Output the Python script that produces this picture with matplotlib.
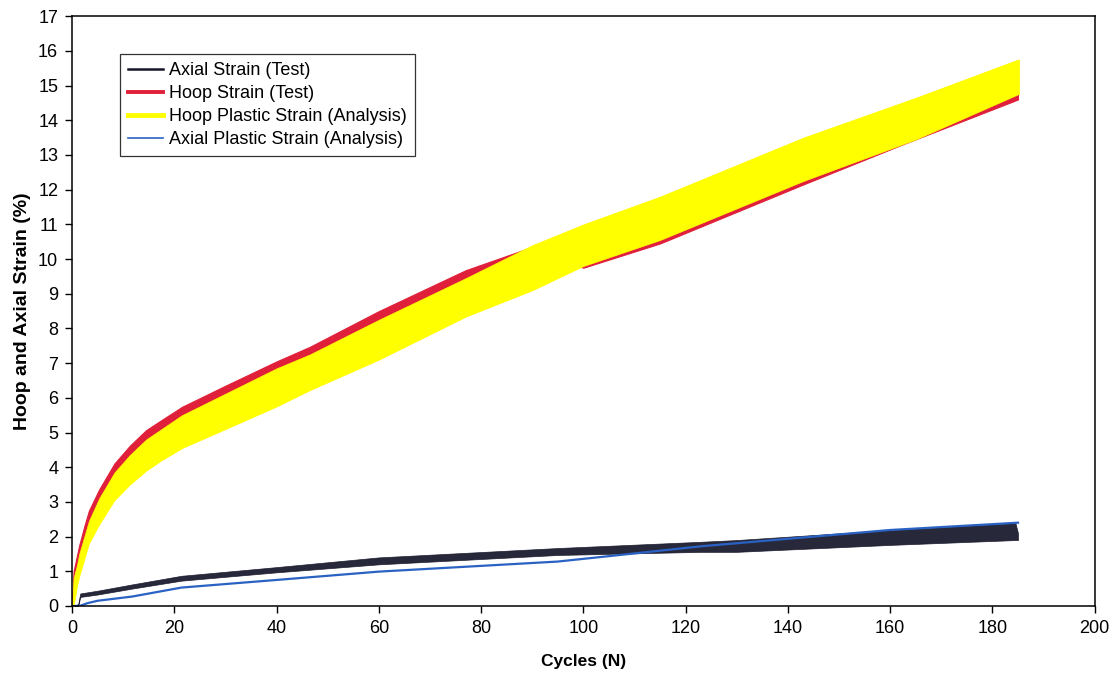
import matplotlib
matplotlib.use('Agg')
import matplotlib.pyplot as plt

plt.rcParams['font.family'] = ['Liberation Sans', 'DejaVu Sans']

# Hoop plastic strain (analysis) - upper / lower envelope of the oscillation
hoop_an_x = [0, 0.3, 1.0, 1.4, 2.4, 3.3, 5.3, 8.3, 11.3, 14.5, 17.5, 21.5, 30, 40, 46.5, 60, 77, 90, 100, 115, 143, 165, 185, 185.2]
hoop_an_hi = [0, 0.8, 1.2, 1.5, 2.0, 2.45, 3.1, 3.85, 4.35, 4.8, 5.1, 5.5, 6.12, 6.85, 7.25, 8.25, 9.45, 10.4, 11.0, 11.8, 13.5, 14.65, 15.75, 15.75]
hoop_an_lo = [0, 0, 0.6, 0.85, 1.35, 1.8, 2.35, 3.05, 3.5, 3.9, 4.2, 4.55, 5.1, 5.75, 6.22, 7.1, 8.34, 9.1, 9.8, 10.55, 12.25, 13.45, 14.75, 14.75]

# Hoop strain (test) - peaks / troughs
hoop_t_x = [0, 0.3, 1.4, 2.4, 3.3, 5.3, 8.3, 11.3, 14.5, 17.5, 21.5, 30, 40, 46.5, 60, 77, 90, 95, 100, 115, 143, 162, 185]
hoop_t_hi = [0, 1.0, 1.75, 2.3, 2.75, 3.36, 4.11, 4.62, 5.07, 5.36, 5.74, 6.35, 7.05, 7.47, 8.5, 9.68, 10.35, 10.15, 9.9, 10.6, 12.3, 13.4, 14.75]
hoop_t_lo = [0, 0.7, 1.35, 1.9, 2.35, 3.0, 3.76, 4.32, 4.77, 5.06, 5.44, 6.05, 6.75, 7.17, 8.2, 9.38, 10.1, 10.0, 9.75, 10.45, 12.15, 13.28, 14.6]

# Axial strain (test) - peaks / troughs
ax_t_x = [0, 1.2, 1.6, 5, 11.7, 21.4, 40, 60, 95, 123, 130, 160, 184.5, 185]
ax_t_hi = [0, 0.05, 0.36, 0.44, 0.62, 0.87, 1.12, 1.4, 1.67, 1.85, 1.9, 2.19, 2.39, 2.1]
ax_t_lo = [0, 0, 0.26, 0.33, 0.5, 0.73, 0.97, 1.2, 1.47, 1.56, 1.56, 1.76, 1.9, 1.9]

# Axial plastic strain (analysis)
ax_an_x = [0, 1.5, 3, 5, 11.7, 21.4, 40, 60, 95, 111, 123, 160, 185]
ax_an_y = [0, 0, 0.08, 0.15, 0.27, 0.53, 0.75, 0.99, 1.28, 1.53, 1.72, 2.19, 2.4]

c_black = '#15152a'
c_red = '#e0203a'
c_yellow = '#ffff00'
c_blue = '#2a62c4'

fig = plt.figure(figsize=(11.17, 6.76), dpi=100)
ax = fig.add_axes([0.0645, 0.1036, 0.9155, 0.8724])

ax.fill_between(ax_t_x, ax_t_lo, ax_t_hi, color=c_black, lw=0.5, alpha=0.92)
ax.fill_between(hoop_t_x, hoop_t_lo, hoop_t_hi, color=c_red, lw=0.8)
ax.fill_between(hoop_an_x, hoop_an_lo, hoop_an_hi, color=c_yellow, lw=0.5)
ax.plot(ax_an_x, ax_an_y, color=c_blue, lw=1.6)

# legend handles
ax.plot([], [], color=c_black, lw=1.8, label='Axial Strain (Test)')
ax.plot([], [], color=c_red, lw=2.8, label='Hoop Strain (Test)')
ax.plot([], [], color=c_yellow, lw=3.5, label='Hoop Plastic Strain (Analysis)')
ax.plot([], [], color=c_blue, lw=1.2, label='Axial Plastic Strain (Analysis)')

leg = ax.legend(loc='upper left', bbox_to_anchor=(0.047, 0.936), fontsize=13,
                frameon=True, fancybox=False, edgecolor='black', handlelength=1.95,
                handletextpad=0.3, labelspacing=0.33, borderpad=0.45, borderaxespad=0)
leg.get_frame().set_linewidth(0.9)

ax.set_xlim(0, 200)
ax.set_ylim(0, 17)
ax.set_xticks(range(0, 201, 20))
ax.set_yticks(range(0, 18))
ax.tick_params(direction='out', length=5, width=1, labelsize=13, colors='black', pad=5)
for s in ax.spines.values():
    s.set_linewidth(1.1)
    s.set_color('black')

ax.set_xlabel('Cycles (N)', fontsize=12.5, fontweight='bold', labelpad=12)
ax.set_ylabel('Hoop and Axial Strain (%)', fontsize=14, fontweight='bold', labelpad=5)

fig.savefig('out.png', dpi=100)
